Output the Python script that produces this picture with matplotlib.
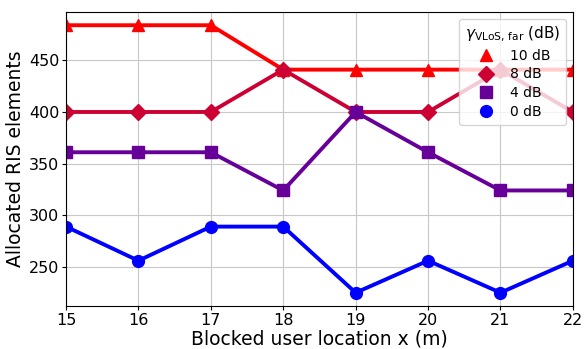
import numpy as np
import matplotlib.pyplot as plt
from matplotlib.lines import Line2D

x_loc = [15, 16, 17, 18, 19, 20, 21, 22]
n_10db = [484, 484, 484, 441, 441, 441, 441, 441]
n_8db = [400, 400, 400, 441, 400, 400, 441, 400]
n_4db = [361, 361, 361, 324, 400, 361, 324, 324]
n_0db = [289, 256, 289, 289, 225, 256, 225, 256]

series = [
    (n_10db, "10 dB", (1.0, 0.0, 0.0), "^"),
    (n_8db, "8 dB", (0.8, 0.0, 0.2), "D"),
    (n_4db, "4 dB", (0.4, 0.0, 0.6), "s"),
    (n_0db, "0 dB", (0.0, 0.0, 1.0), "o"),
]

fig, ax = plt.subplots(figsize=(5.84, 3.49), dpi=100)
handles = []
for vals, lab, col, mk in series:
    ax.plot(x_loc, vals, color=col, marker=mk, lw=2.8, ms=8.5)
    handles.append(Line2D([], [], color=col, marker=mk, ls="none", ms=8.5, label=lab))

ax.set_xlim(15, 22)
ax.grid(True, color="#c8c8c8", lw=0.8)
ax.tick_params(labelsize=11.5, pad=1.8, length=3)
ax.set_xlabel("Blocked user location x (m)", fontsize=13.5, labelpad=1)
ax.set_ylabel("Allocated RIS elements", fontsize=13.5, labelpad=3)
ax.legend(handles=handles, title=r"$\gamma_{\mathrm{VLoS,\,far}}$ (dB)", fontsize=10,
          title_fontsize=11, loc="upper right", framealpha=0.8, handletextpad=0.9,
          handlelength=1.6, labelspacing=0.35, borderaxespad=0.5)
fig.subplots_adjust(left=0.113, right=0.981, top=0.966, bottom=0.123)
fig.savefig("out.png", dpi=100)
